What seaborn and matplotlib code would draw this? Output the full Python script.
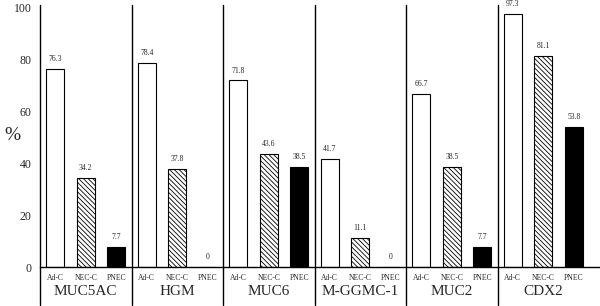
import matplotlib; matplotlib.use('Agg')
import matplotlib.pyplot as plt
import seaborn as sns
import pandas as pd

groups = ['MUC5AC', 'HGM', 'MUC6', 'M-GGMC-1', 'MUC2', 'CDX2']
types  = ['Ad-C', 'NEC-C', 'PNEC']
adc    = [76.3, 78.4, 71.8, 41.7, 66.7, 97.3]
necc   = [34.2, 37.8, 43.6, 11.1, 38.5, 81.1]
pnec   = [7.7, 0, 38.5, 0, 7.7, 53.8]
yticks = [0, 20, 40, 60, 80, 100]

rows = []
for i, g in enumerate(groups):
    for t, v in zip(types, [adc[i], necc[i], pnec[i]]):
        rows.append({'group': g, 'type': t, 'value': v})
df = pd.DataFrame(rows)

sns.set_style('white')
plt.rcParams['font.family'] = ['Liberation Serif', 'DejaVu Serif']
plt.rcParams['hatch.linewidth'] = 0.6

fig = plt.figure(figsize=(6, 3.06), dpi=100)
ax = fig.add_axes([40/600, 39/306, 560/600, 262/306])
sns.barplot(data=df, x='group', y='value', hue='type', order=groups, hue_order=types,
            palette=['white', 'white', 'black'], edgecolor='black', linewidth=0.8,
            width=1.0, gap=0.41, legend=False, ax=ax)

# hatch the NEC-C bars, add value + category labels
for cont, t in zip(ax.containers, types):
    for bar, (_, r) in zip(cont, df[df['type'] == t].iterrows()):
        if t == 'NEC-C':
            bar.set_hatch('\\' * 7)
        cx = bar.get_x() + bar.get_width() / 2
        v = r['value']
        ax.text(cx, v + 2.2, f'{v:g}', ha='center', va='bottom', fontsize=5.5)
        ax.text(cx, -0.042, t, ha='center', va='center', fontsize=5.5,
                transform=ax.get_xaxis_transform())

for i, g in enumerate(groups):
    ax.text(i, -0.092, g, ha='center', va='center', fontsize=11,
            transform=ax.get_xaxis_transform())
    ax.axvline(i - 0.5, ymin=-0.145, ymax=1, color='black', lw=1, clip_on=False)

ax.set_xlim(-0.5, 5.62)
ax.set_ylim(0, 100.77)
ax.set_yticks(yticks)
ax.set_yticklabels([str(y) for y in yticks], fontsize=8.5)
ax.tick_params(axis='y', length=0, pad=6)
ax.set_xticks([])
ax.set_xlabel('')
ax.set_ylabel('')
fig.text(12/600, 1 - 135/306, '%', fontsize=14, ha='center', va='center')
for s in ['top', 'right', 'left']:
    ax.spines[s].set_visible(False)
ax.spines['bottom'].set_color('black')
ax.spines['bottom'].set_linewidth(1)

fig.savefig('out.png', dpi=100)
